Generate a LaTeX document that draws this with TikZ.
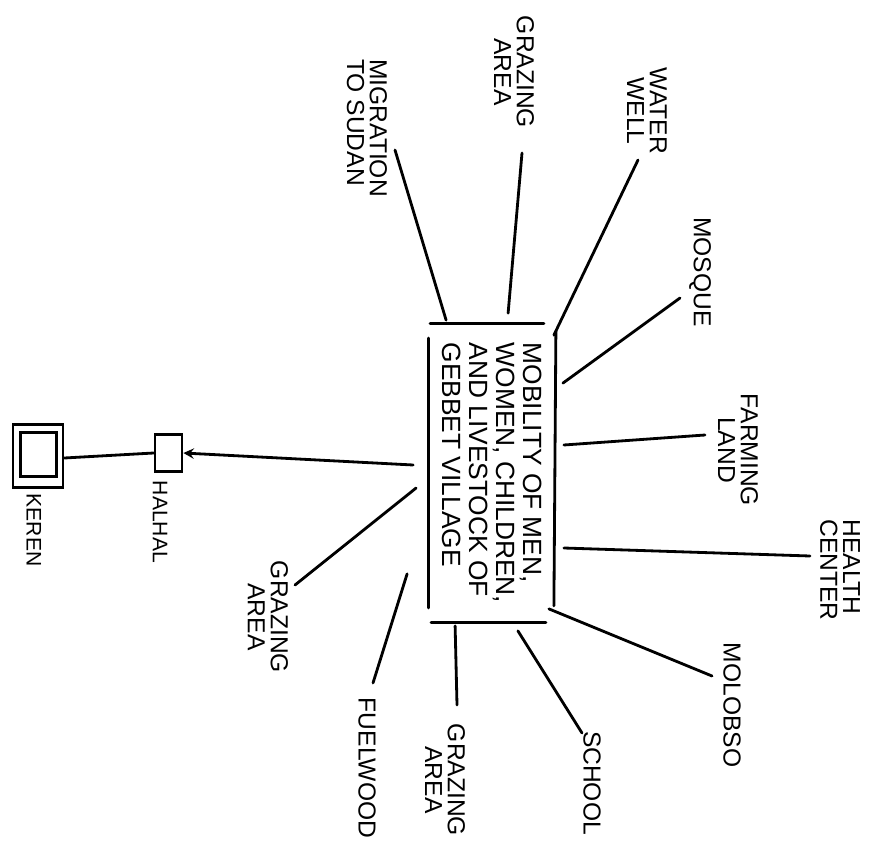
\documentclass[tikz,border=0pt]{standalone}
\usepackage{fontspec}
\setmainfont{Liberation Sans}

\begin{document}
\begin{tikzpicture}[x=0.02cm,y=-0.02cm,>=stealth,line width=1.6pt,line cap=round,
        lbl/.style={rotate=-90, align=center, inner sep=0pt, font=\fontsize{14}{13}\selectfont},
        small/.style={font=\fontsize{12}{12}\selectfont}]
        \useasboundingbox (0,0) rectangle (874,854);

        % centre box, its sides drawn one by one
        \node (mobility) [minimum width=2.5cm, minimum height=5.94cm] at (492,473) {};
        \node (mobtext) [rotate=-90, align=left, inner sep=0pt, font=\fontsize{15}{15.5}\selectfont] at (mobility.center) {MOBILITY OF MEN,\\WOMEN, CHILDREN,\\AND LIVESTOCK OF\\GEBBET VILLAGE};
        \draw ([shift={(2,0)}]mobility.north west) -- ([shift={(-12,0)}]mobility.north east);
        \draw ([shift={(0,8)}]mobility.north east) -- ([shift={(-2,-17)}]mobility.south east);
        \draw ([shift={(3,0)}]mobility.south west) -- ([shift={(-10,0)}]mobility.south east);
        \draw ([shift={(0,15)}]mobility.north west) -- ([shift={(0,-15)}]mobility.south west);

        \node (migration) [lbl, align=left] at (367,128) {MIGRATION\\TO SUDAN};
        \node (grazingN) [lbl] at (514,72) {GRAZING\\AREA};
        \node (well) [lbl] at (647,111) {WATER\\WELL};
        \node (mosque) [lbl] at (700,272) {MOSQUE};
        \node (farming) [lbl] at (738,450) {FARMING\\LAND};
        \node (health) [lbl, align=left] at (840,570) {HEALTH\\CENTER};
        \node (molobso) [lbl] at (732,705) {MOLOBSO};
        \node (school) [lbl] at (592,783) {SCHOOL};
        \node (grazingS) [lbl] at (445,780) {GRAZING\\AREA};
        \node (fuelwood) [lbl] at (367,768) {FUELWOOD};
        \node (grazingW) [lbl] at (268,617) {GRAZING\\AREA};

        \node (halhal) [draw, minimum width=0.54cm, minimum height=0.74cm] at (168.5,453) {};
        \node (halhallbl) [lbl, small] at (160,522) {HALHAL};
        \node (keren) [draw, minimum width=1cm, minimum height=1.26cm] at (38,456) {};
        \draw ([shift={(9,9)}]keren.north west) rectangle ([shift={(-8,-12)}]keren.south east);
        \node (kerenlbl) [lbl, small] at (34,530) {KEREN};

        \draw ([shift={(18,-3)}]mobility.north west) -- ([shift={(28,22)}]migration.center);
        \draw ([shift={(80,-10)}]mobility.north west) -- ([shift={(8,81)}]grazingN.center);
        \draw ([shift={(-2,12)}]mobility.north east) -- ([shift={(-9,49)}]well.center);
        \draw ([shift={(7,60)}]mobility.north east) -- ([shift={(-20,26)}]mosque.center);
        \draw ([shift={(8,-28)}]mobility.east) -- ([shift={(-33,-15)}]farming.center);
        \draw ([shift={(8,75)}]mobility.east) -- ([shift={(-30,-14)}]health.center);
        \draw ([shift={(-7,-14)}]mobility.south east) -- ([shift={(-20,-29)}]molobso.center);
        \draw ([shift={(-38,8)}]mobility.south east) -- ([shift={(-10,-50)}]school.center);
        \draw ([shift={(27,3)}]mobility.south west) -- ([shift={(12,-75)}]grazingS.center);
        \draw ([shift={(-21,-49)}]mobility.south west) -- ([shift={(6,-85)}]fuelwood.center);
        \draw ([shift={(-12,15)}]mobility.west) -- ([shift={(27,-32)}]grazingW.center);
        \draw[->] ([shift={(-15,-8)}]mobility.west) -- (halhal.east);
        \draw (halhal.west) -- ([shift={(0,2)}]keren.east);
    \end{tikzpicture}
\end{document}
